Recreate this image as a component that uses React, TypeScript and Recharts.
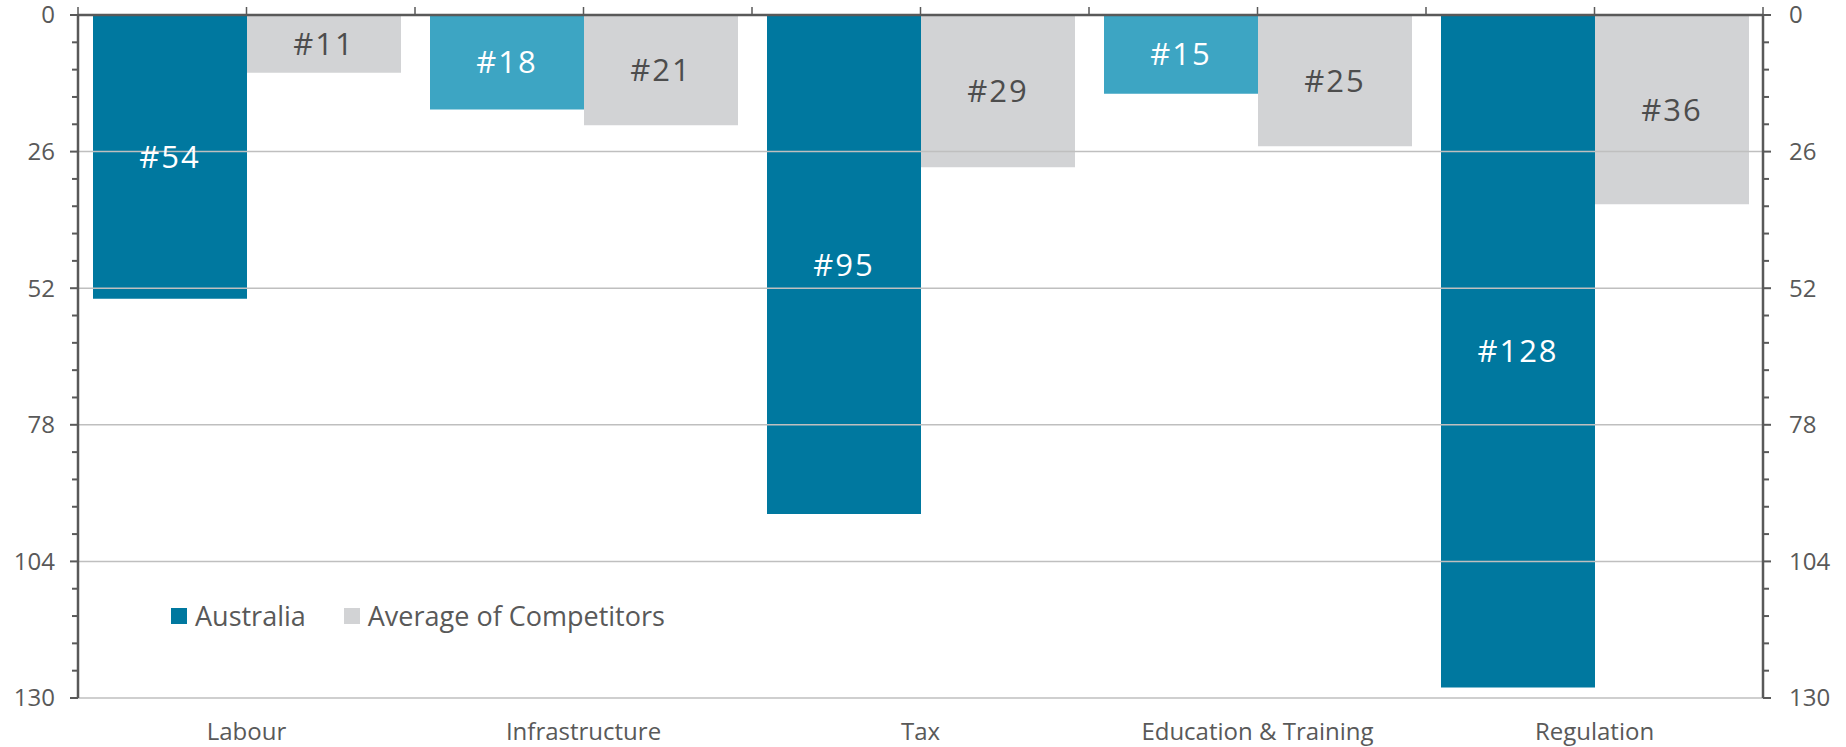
import React from 'react';
import { BarChart, Bar, XAxis, YAxis, Cell, LabelList, Legend, ReferenceLine } from 'recharts';

// rank data (lower = better), y axis runs downward
const categories = ['Labour', 'Infrastructure', 'Tax', 'Education & Training', 'Regulation'];
const australia = [54, 18, 95, 15, 128];
const competitors = [11, 21, 29, 25, 36];

const majorTicks = [0, 26, 52, 78, 104, 130];
const minorTicks = [
  0, 5.2, 10.4, 15.6, 20.8, 26, 31.2, 36.4, 41.6, 46.8, 52, 57.2, 62.4, 67.6, 72.8,
  78, 83.2, 88.4, 93.6, 98.8, 104, 109.2, 114.4, 119.6, 124.8, 130,
];

const data = categories.map((name, i) => ({
  name,
  australia: australia[i],
  competitors: competitors[i],
}));

const DARK = '#00789F';
const LIGHT = '#3DA5C3';
const GREY = '#D2D3D5';
const TEXT = '#595959';
const AXIS = '#595959';
const GRID = '#BFBFBF';
const FONT = '"Open Sans", sans-serif';

const YTick = (props: any) => {
  const { x, y, payload, side } = props;
  const v = payload.value;
  const major = majorTicks.some((m) => Math.abs(m - v) < 0.01);
  const dir = side === 'left' ? -1 : 1;
  return (
    <g>
      <line x1={x} x2={x + dir * (major ? 8 : 6)} y1={y} y2={y} stroke={AXIS} strokeWidth={2} />
      {major && (
        <text
          x={x + dir * (side === 'left' ? 23 : 26)}
          y={y}
          dy="0.35em"
          textAnchor={side === 'left' ? 'end' : 'start'}
          fill={TEXT}
          fontSize={24}
          fontFamily={FONT}
        >
          {v}
        </text>
      )}
    </g>
  );
};

// excel style: tick at category centre and at its left boundary (plus the far right edge)
const TopTick = (props: any) => {
  const { x, y, width, index } = props;
  const band = width / categories.length;
  const xs = [x - band / 2, x];
  if (index === categories.length - 1) xs.push(x + band / 2);
  return (
    <g>
      {xs.map((tx, i) => (
        <line key={i} x1={tx} x2={tx} y1={y} y2={y - 8} stroke={AXIS} strokeWidth={1.5} />
      ))}
    </g>
  );
};

const LegendBox = (props: any) => {
  const { payload } = props;
  return (
    <div style={{ display: 'flex', alignItems: 'center', fontFamily: FONT, fontSize: 27, color: TEXT }}>
      {(payload || []).map((p: any, i: number) => (
        <div key={i} style={{ display: 'flex', alignItems: 'center', marginRight: 38 }}>
          <span style={{ width: 16, height: 16, background: p.color, display: 'inline-block', marginRight: 8 }} />
          <span>{p.value}</span>
        </div>
      ))}
    </div>
  );
};

export default function App() {
  return (
    <div style={{ position: 'absolute', left: 0, top: 0, background: '#fff' }}>
      <BarChart
        width={1846}
        height={747}
        data={data}
        margin={{ top: 0, right: 0, bottom: 0, left: 0 }}
        barCategoryGap={15}
        barGap={0}
      >
        <XAxis
          dataKey="name"
          axisLine={false}
          tickLine={false}
          tickSize={0}
          tickMargin={25}
          height={49}
          interval={0}
          tick={{ fill: TEXT, fontSize: 24, fontFamily: FONT }}
        />
        <XAxis
          xAxisId="top"
          dataKey="name"
          orientation="top"
          height={15}
          interval={0}
          tickSize={0}
          tickMargin={0}
          tickLine={false}
          tick={(p: any) => <TopTick {...p} />}
          axisLine={{ stroke: AXIS, strokeWidth: 2.5 }}
        />
        <YAxis
          yAxisId="left"
          width={78}
          reversed
          domain={[0, 130]}
          allowDataOverflow
          ticks={minorTicks}
          interval={0}
          tickSize={0}
          tickMargin={0}
          tickLine={false}
          axisLine={{ stroke: AXIS, strokeWidth: 2.5 }}
          tick={(p: any) => <YTick {...p} side="left" />}
        />
        <YAxis
          yAxisId="right"
          orientation="right"
          width={83}
          reversed
          type="number"
          domain={[0, 130]}
          allowDataOverflow
          ticks={minorTicks}
          interval={0}
          tickSize={0}
          tickMargin={0}
          tickLine={false}
          axisLine={{ stroke: AXIS, strokeWidth: 2.5 }}
          tick={(p: any) => <YTick {...p} side="right" />}
        />
        {majorTicks.slice(1).map((t) => (
          <ReferenceLine key={t} yAxisId="left" y={t} stroke={GRID} strokeWidth={1.5} />
        ))}
        <Legend
          layout="horizontal"
          verticalAlign="middle"
          align="center"
          wrapperStyle={{ left: 171, top: 597, width: 'auto' }}
          content={<LegendBox />}
        />
        <Bar yAxisId="left" dataKey="australia" name="Australia" fill={DARK} isAnimationActive={false}>
          {data.map((d, i) => (
            <Cell key={i} fill={d.australia > d.competitors ? DARK : LIGHT} />
          ))}
          <LabelList
            dataKey="australia"
            position="center"
            formatter={(v: any) => `#${v}`}
            fill="#FFFFFF"
            fontSize={31}
            fontFamily={FONT}
            letterSpacing={2}
          />
        </Bar>
        <Bar yAxisId="left" dataKey="competitors" name="Average of Competitors" fill={GREY} isAnimationActive={false}>
          <LabelList
            dataKey="competitors"
            position="center"
            formatter={(v: any) => `#${v}`}
            fill="#4D4D4D"
            fontSize={31}
            fontFamily={FONT}
            letterSpacing={2}
          />
        </Bar>
      </BarChart>
    </div>
  );
}
